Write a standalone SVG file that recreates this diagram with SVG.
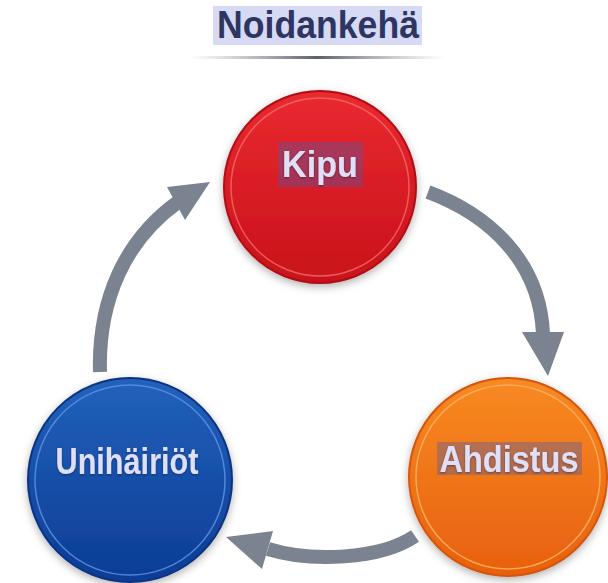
<svg xmlns="http://www.w3.org/2000/svg" width="608" height="583" viewBox="0 0 608 583">
<defs>
<style>
.lbl{font-family:"Liberation Sans",Arial,sans-serif;font-weight:bold;font-size:36px;fill:#dfe0f8;text-anchor:middle}
.ttl{font-family:"Liberation Sans",Arial,sans-serif;font-weight:bold;font-size:38px;fill:#2e3562;text-anchor:middle}
.shaft{fill:none;stroke:#7b8391;stroke-width:14}
.head{fill:#7b8391}
.hl{fill:#505aa8;opacity:0.38}
</style>
<linearGradient id="gRed" x1="0" y1="0" x2="0" y2="1">
<stop offset="0" stop-color="#ea2a30"/><stop offset="1" stop-color="#c8111b"/>
</linearGradient>
<linearGradient id="gOrg" x1="0" y1="0" x2="0" y2="1">
<stop offset="0" stop-color="#f88a22"/><stop offset="1" stop-color="#e8600f"/>
</linearGradient>
<linearGradient id="gBlu" x1="0" y1="0" x2="0" y2="1">
<stop offset="0" stop-color="#2262bc"/><stop offset="1" stop-color="#0d3c94"/>
</linearGradient>
<linearGradient id="gLine" x1="0" y1="0" x2="1" y2="0">
<stop offset="0" stop-color="#8a8f99" stop-opacity="0"/><stop offset="0.5" stop-color="#5b606b"/><stop offset="1" stop-color="#8a8f99" stop-opacity="0"/>
</linearGradient>
<filter id="sh" x="-20%" y="-20%" width="140%" height="140%">
<feDropShadow dx="0" dy="3" stdDeviation="4" flood-color="#000" flood-opacity="0.3"/>
</filter>
<filter id="tsh" x="-10%" y="-10%" width="120%" height="130%">
<feDropShadow dx="0" dy="1" stdDeviation="1" flood-color="#000" flood-opacity="0.4"/>
</filter>
</defs>
<rect width="608" height="583" fill="#ffffff"/>

<g id="title">
<rect x="213" y="6" width="209" height="39" fill="#d6daf4"/>
<text class="ttl" x="318" y="38" textLength="202" lengthAdjust="spacingAndGlyphs">Noidankehä</text>
<rect x="190" y="56" width="254" height="3" fill="url(#gLine)"/>
</g>

<g id="connectors">
<path class="shaft" d="M100,372 C98,300 125,240 178,202"/>
<polygon class="head" points="210,182 167,187 185,220"/>
<path class="shaft" d="M428,192 C490,215 540,262 543,334"/>
<polygon class="head" points="548,376 522,332 564,332"/>
<path class="shaft" d="M415,536 C380,560 310,562 268,549"/>
<polygon class="head" points="226,537 273,531 262,569"/>
</g>

<g id="kipu">
<circle cx="320" cy="187" r="96" fill="url(#gRed)" stroke="#b00c14" stroke-width="2" filter="url(#sh)"/>
<circle cx="320" cy="187" r="89" fill="none" stroke="#f56a6a" stroke-width="1.5" opacity="0.8"/>
<rect class="hl" x="278" y="142" width="85" height="45"/>
<text class="lbl" x="320" y="177" textLength="76" lengthAdjust="spacingAndGlyphs" filter="url(#tsh)">Kipu</text>
</g>

<g id="ahdistus">
<circle cx="508" cy="477" r="99" fill="url(#gOrg)" stroke="#d2560c" stroke-width="2" filter="url(#sh)"/>
<circle cx="508" cy="477" r="92" fill="none" stroke="#fbb060" stroke-width="1.5" opacity="0.85"/>
<rect class="hl" x="437" y="442" width="145" height="33"/>
<text class="lbl" x="509" y="472" textLength="139" lengthAdjust="spacingAndGlyphs" filter="url(#tsh)">Ahdistus</text>
</g>

<g id="unihairiot">
<circle cx="130" cy="480" r="102" fill="url(#gBlu)" stroke="#0a3380" stroke-width="2" filter="url(#sh)"/>
<circle cx="130" cy="480" r="95" fill="none" stroke="#5a92e6" stroke-width="1.5" opacity="0.85"/>
<text class="lbl" x="127" y="474" textLength="143" lengthAdjust="spacingAndGlyphs" filter="url(#tsh)">Unihäiriöt</text>
</g>
</svg>
